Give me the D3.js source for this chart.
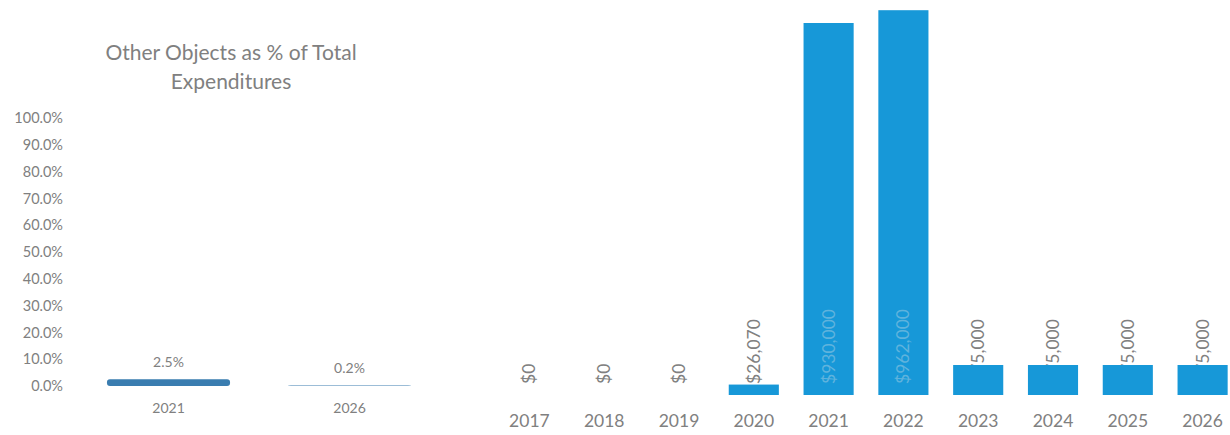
<!DOCTYPE html>
<html>
<head>
<meta charset="utf-8">
<script src="https://cdn.jsdelivr.net/npm/d3@7"></script>
<style>
  body { margin: 0; background: #fff; }
  text { font-family: Lato, "Open Sans", sans-serif; fill: #808080; }
</style>
</head>
<body>
<script>
'use strict';

// left panel: share of total expenditures
const pctYears = ["2021", "2026"];
const pctValues = [0.025, 0.002];
const pctTicks = [0, 0.1, 0.2, 0.3, 0.4, 0.5, 0.6, 0.7, 0.8, 0.9, 1.0];

// right panel: other objects spending by year
const years = ["2017", "2018", "2019", "2020", "2021", "2022", "2023", "2024", "2025", "2026"];
const amounts = [0, 0, 0, 26070, 930000, 962000, 75000, 75000, 75000, 75000];

(function () {
  const svg = d3.select('body')
    .append('svg')
    .attr('width', 1230)
    .attr('height', 435);

  // ---- left chart ----
  const left = svg.append('g');

  left.append('text')
    .attr('x', 231)
    .attr('y', 60)
    .attr('text-anchor', 'middle')
    .style('font-size', '21px')
    .text('Other Objects as % of Total');
  left.append('text')
    .attr('x', 231)
    .attr('y', 89)
    .attr('text-anchor', 'middle')
    .style('font-size', '21px')
    .text('Expenditures');

  const xPct = d3.scaleBand()
    .domain(pctYears)
    .range([78, 440])
    .paddingInner(0.32)
    .paddingOuter(0.16);

  const yPct = d3.scaleLinear()
    .domain([0, 1])
    .range([386, 118]);

  // y axis labels only
  const yAxisL = d3.axisLeft(yPct)
    .tickValues(pctTicks)
    .tickFormat(d3.format('.1%'))
    .tickSize(0)
    .tickPadding(0);
  left.append('g')
    .attr('transform', 'translate(63, 0)')
    .call(yAxisL)
    .call(g => g.select('.domain').remove())
    .selectAll('text')
    .style('font-size', '14.5px')
    .style('font-family', 'Lato, sans-serif')
    .attr('fill', '#808080');

  // x axis labels
  const xAxisL = d3.axisBottom(xPct).tickSize(0).tickPadding(0);
  left.append('g')
    .attr('transform', 'translate(0, 403)')
    .call(xAxisL)
    .call(g => g.select('.domain').remove())
    .selectAll('text')
    .style('font-size', '14px')
    .style('font-family', 'Lato, sans-serif')
    .attr('fill', '#808080');

  left.selectAll('.pbar')
    .data(pctValues)
    .enter()
    .append('rect')
    .attr('class', 'pbar')
    .attr('x', (d, i) => xPct(pctYears[i]))
    .attr('width', xPct.bandwidth())
    .attr('y', d => yPct(d))
    .attr('height', d => yPct(0) - yPct(d))
    .attr('rx', 3)
    .attr('fill', '#3a7db0');

  left.selectAll('.plabel')
    .data(pctValues)
    .enter()
    .append('text')
    .attr('class', 'plabel')
    .attr('x', (d, i) => xPct(pctYears[i]) + xPct.bandwidth() / 2)
    .attr('y', d => yPct(d) - 12)
    .attr('text-anchor', 'middle')
    .style('font-size', '14px')
    .text(d => d3.format('.1%')(d));

  // ---- right chart ----
  const right = svg.append('g');

  const x = d3.scaleBand()
    .domain(years)
    .range([492, 1240])
    .paddingInner(0.33)
    .paddingOuter(0.165);

  const y = d3.scaleLinear()
    .domain([0, 1000000])
    .range([395, -5]);

  const fmt = d => '$' + d3.format(',')(d);
  const labelBase = 384;
  const insideLimit = 300000;
  const rows = years.map((yr, i) => ({ year: yr, value: amounts[i] }));

  // value labels for smaller bars, drawn behind the bars
  right.selectAll('.vlabel')
    .data(rows.filter(d => d.value < insideLimit))
    .enter()
    .append('text')
    .attr('class', 'vlabel')
    .attr('transform', d => 'translate(' + (x(d.year) + x.bandwidth() / 2 + 6) + ',' + labelBase + ')rotate(-90)')
    .style('font-size', '17.5px')
    .text(d => fmt(d.value));

  right.selectAll('.bar')
    .data(rows)
    .enter()
    .append('rect')
    .attr('class', 'bar')
    .attr('x', d => x(d.year))
    .attr('width', x.bandwidth())
    .attr('y', d => y(d.value))
    .attr('height', d => y(0) - y(d.value))
    .attr('fill', '#1798d8');

  // labels inside the tall bars
  right.selectAll('.ilabel')
    .data(rows.filter(d => d.value >= insideLimit))
    .enter()
    .append('text')
    .attr('class', 'ilabel')
    .attr('transform', d => 'translate(' + (x(d.year) + x.bandwidth() / 2 + 6) + ',' + labelBase + ')rotate(-90)')
    .style('font-size', '17.5px')
    .style('fill', '#5fb3dd')
    .text(d => fmt(d.value));

  // year labels
  const xAxis = d3.axisBottom(x).tickSize(0).tickPadding(0);
  right.append('g')
    .attr('transform', 'translate(0, 415)')
    .call(xAxis)
    .call(g => g.select('.domain').remove())
    .selectAll('text')
    .style('font-size', '17.5px')
    .style('font-family', 'Lato, sans-serif')
    .attr('fill', '#808080');
})();
</script>
</body>
</html>
